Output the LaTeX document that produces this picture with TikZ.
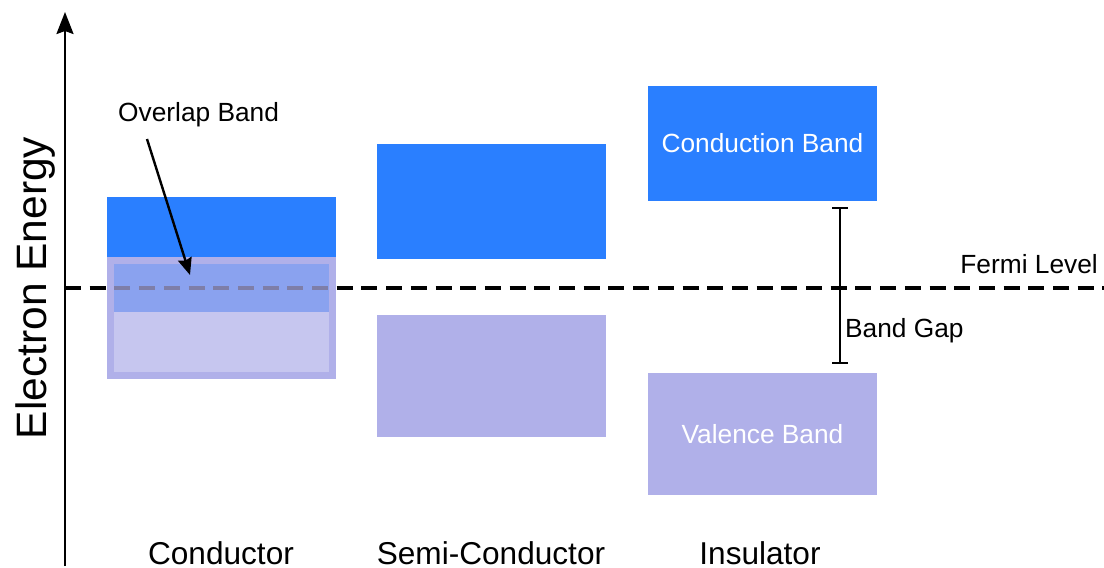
\documentclass[tikz,border=0pt]{standalone}
\usepackage{fontspec}
\setmainfont{Liberation Sans}
\usetikzlibrary{arrows.meta}

\definecolor{condblue}{HTML}{2A7FFF}
\definecolor{valpurple}{HTML}{B0B0E9}

\tikzset{
  band/.style={inner sep=0pt, outer sep=0pt, draw=none, minimum width=229pt, minimum height=115pt},
  cband/.style={band, fill=condblue},
  vband/.style={band, fill=valpurple, minimum height=122pt},
  lbl/.style={inner sep=0pt, font=\fontsize{26.3}{30}\selectfont},
  blbl/.style={inner sep=0pt, font=\fontsize{31.6}{36}\selectfont, anchor=base},
  inlbl/.style={lbl, text=white, anchor=base},
}

\begin{document}
\begin{tikzpicture}[x=1pt,y=-1pt]
  \useasboundingbox (0,0) rectangle (1104,568);

  % energy axis
  \coordinate (axb) at (65,566);
  \coordinate (axt) at (65,12);
  \draw[line width=2.4pt, -{Stealth[length=22pt,width=17pt,inset=3pt]}] (axb) -- (axt);
  \node[inner sep=0pt, rotate=90, anchor=base, font=\fontsize{42.5}{48}\selectfont]
    (ylab) at (46,288) {Electron Energy};

  % conductor: conduction band
  \node[cband] (ccb) at (221.5,254.5) {};

  % Fermi level
  \coordinate (fl) at (65,288);
  \coordinate (fr) at (1104,288);
  \draw[line width=3.4pt, dash pattern=on 16pt off 8.7pt] (fl) -- (fr);
  \node[lbl, anchor=base east] (fermi) at (1098,273) {Fermi Level};

  % conductor: valence band overlapping the conduction band
  \node[band, minimum width=222pt, minimum height=115pt,
        fill=valpurple, fill opacity=0.72, draw=valpurple, line width=7pt]
        (cvb) at (221.5,318) {};

  % semi-conductor
  \node[cband] (scb) at (491,201.5) {};
  \node[vband] (svb) at (491,376) {};

  % insulator
  \node[cband] (icb) at (762.5,143.5) {};
  \node[vband] (ivb) at (762.5,434) {};
  \node[inlbl] (ictext) at (762.5,152) {Conduction Band};
  \node[inlbl] (ivtext) at (762.5,443) {Valence Band};

  % band gap
  \coordinate (gt) at (840,207);
  \coordinate (gb) at (840,364);
  \draw[line width=1.7pt, {Bar[width=16pt]}-{Bar[width=16pt]}] (gt) -- (gb);
  \node[lbl, anchor=base west] (gap) at (845,337) {Band Gap};

  % overlap band label and pointer
  \node[lbl, anchor=base west] (olap) at (118,121) {Overlap Band};
  \coordinate (oa) at (147,139);
  \coordinate (ob) at (190,275);
  \draw[line width=2.4pt, -{Stealth[length=17pt,width=14pt,inset=2pt]}] (oa) -- (ob);

  % material labels
  \node[blbl] (cond) at (221,564.5) {Conductor};
  \node[blbl] (semi) at (491,564.5) {Semi-Conductor};
  \node[blbl] (ins) at (760,564.5) {Insulator};
\end{tikzpicture}
\end{document}
